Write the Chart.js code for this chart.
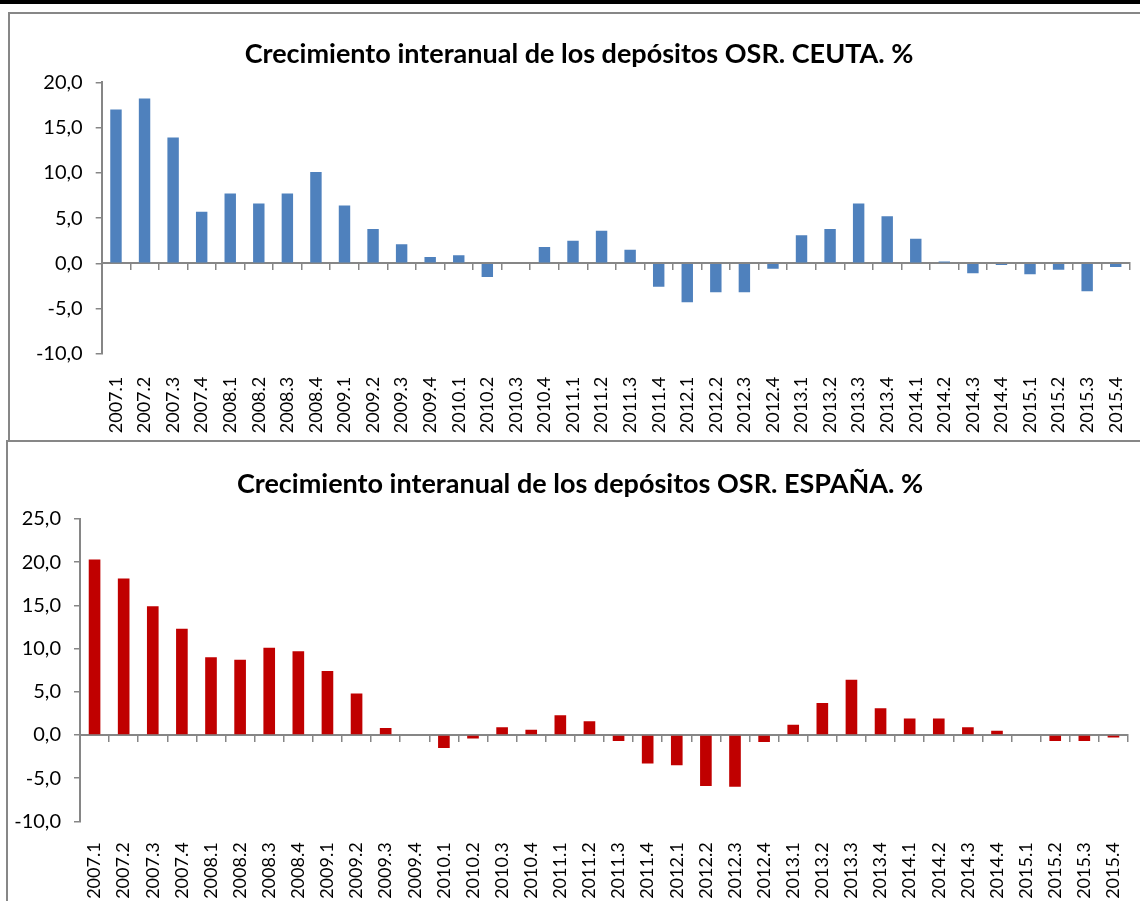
<!DOCTYPE html>
<html lang="es">
<head>
    <meta charset="UTF-8">
    <title>Crecimiento interanual de los depósitos OSR</title>
    <script src="https://cdn.jsdelivr.net/npm/chart.js"></script>
    <style>
        body {
            margin: 0;
            background: white;
            width: 1140px;
            height: 901px;
            overflow: hidden;
            position: relative;
            font-family: Lato, sans-serif;
        }
        .topbar {
            position: absolute;
            left: 0; top: 0;
            width: 1140px; height: 4px;
            background: #000;
        }
        .frame {
            position: absolute;
            border: 2px solid #878787;
            box-sizing: border-box;
        }
        .chart-box {
            position: absolute;
            left: 0;
            width: 1140px;
        }
        .chart-title {
            position: absolute;
            left: 0;
            text-align: center;
            font-family: Lato, sans-serif;
            font-weight: bold;
            font-size: 27px;
            line-height: 32px;
            color: #000;
            white-space: nowrap;
        }
    </style>
</head>
<body>
    <div class="topbar"></div>
    <div class="frame" style="left:8px; top:12px; width:1200px; height:430px;"></div>
    <div class="frame" style="left:6px; top:440px; width:1200px; height:500px;"></div>

    <div class="chart-box" style="top:0; height:440px;">
        <canvas id="ceutaChart"></canvas>
    </div>
    <div class="chart-box" style="top:440px; height:461px;">
        <canvas id="espanaChart"></canvas>
    </div>

    <div class="chart-title" style="top:37px; width:1158px;">Crecimiento interanual de los depósitos OSR. CEUTA. %</div>
    <div class="chart-title" style="top:467px; width:1160px;">Crecimiento interanual de los depósitos OSR. ESPAÑA. %</div>

    <script>
        // quarters on the x axis
        const quarters = [
            '2007.1', '2007.2', '2007.3', '2007.4',
            '2008.1', '2008.2', '2008.3', '2008.4',
            '2009.1', '2009.2', '2009.3', '2009.4',
            '2010.1', '2010.2', '2010.3', '2010.4',
            '2011.1', '2011.2', '2011.3', '2011.4',
            '2012.1', '2012.2', '2012.3', '2012.4',
            '2013.1', '2013.2', '2013.3', '2013.4',
            '2014.1', '2014.2', '2014.3', '2014.4',
            '2015.1', '2015.2', '2015.3', '2015.4'
        ];

        // year-on-year growth, %
        const ceutaValues = [
            17.0, 18.2, 13.9, 5.7,
            7.7, 6.6, 7.7, 10.1,
            6.4, 3.8, 2.1, 0.7,
            0.9, -1.5, 0.0, 1.8,
            2.5, 3.6, 1.5, -2.6,
            -4.3, -3.2, -3.2, -0.6,
            3.1, 3.8, 6.6, 5.2,
            2.7, 0.2, -1.1, -0.2,
            -1.2, -0.7, -3.1, -0.4
        ];
        const espanaValues = [
            20.3, 18.1, 14.9, 12.3,
            9.0, 8.7, 10.1, 9.7,
            7.4, 4.8, 0.8, -0.1,
            -1.5, -0.4, 0.9, 0.6,
            2.3, 1.6, -0.7, -3.3,
            -3.5, -5.9, -6.0, -0.8,
            1.2, 3.7, 6.4, 3.1,
            1.9, 1.9, 0.9, 0.5,
            0.0, -0.7, -0.7, -0.3
        ];

        // y axis ranges [min, max, step]
        const ceutaAxis = [-10, 20, 5];
        const espanaAxis = [-10, 25, 5];

        const axisGrey = '#868686';
        const fmt = v => v.toFixed(1).replace('.', ',');

        function makeChart(canvasId, values, color, axis, lay) {
            return new Chart(document.getElementById(canvasId), {
                type: 'bar',
                data: {
                    labels: quarters,
                    datasets: [{
                        data: values,
                        backgroundColor: color,
                        borderWidth: 0,
                        categoryPercentage: 0.4,
                        barPercentage: 1.0
                    }]
                },
                options: {
                    responsive: true,
                    maintainAspectRatio: false,
                    animation: false,
                    layout: {
                        padding: { left: 0, right: lay.padRight, top: lay.padTop, bottom: 0 }
                    },
                    plugins: {
                        legend: { display: false },
                        tooltip: { enabled: false },
                        title: { display: false }
                    },
                    scales: {
                        x: {
                            position: 'bottom',
                            offset: true,
                            grid: { display: false },
                            border: { display: false },
                            ticks: {
                                color: '#000',
                                font: { family: 'Lato', size: 18 },
                                minRotation: 90,
                                maxRotation: 90,
                                autoSkip: false,
                                padding: lay.labelPad
                            },
                            afterFit: s => {
                                s.height = lay.xHeight;
                                s.paddingLeft = 0;
                                s.paddingRight = 0;
                            }
                        },
                        // axis line with tick marks, crossing at zero
                        x2: {
                            axis: 'x',
                            type: 'category',
                            position: { y: 0 },
                            offset: true,
                            grid: {
                                offset: true,
                                drawOnChartArea: false,
                                drawTicks: true,
                                tickLength: 6,
                                color: axisGrey,
                                lineWidth: 1.5
                            },
                            border: { display: true, color: axisGrey, width: 2 },
                            ticks: { display: false },
                            afterFit: s => {
                                s.paddingLeft = 0;
                                s.paddingRight = 0;
                            }
                        },
                        y: {
                            min: axis[0],
                            max: axis[1],
                            grid: {
                                drawOnChartArea: false,
                                drawTicks: true,
                                tickLength: 6,
                                color: axisGrey,
                                lineWidth: 1.5
                            },
                            border: { display: true, color: axisGrey, width: 2 },
                            ticks: {
                                stepSize: axis[2],
                                color: '#000',
                                font: { family: 'Lato', size: 20 },
                                padding: 13,
                                callback: v => fmt(v)
                            },
                            afterFit: s => { s.width = lay.yWidth; }
                        }
                    }
                }
            });
        }

        makeChart('ceutaChart', ceutaValues, '#4F81BD', ceutaAxis,
            { padRight: 10, padTop: 82.3, yWidth: 101.7, xHeight: 86.2, labelPad: 15 });

        makeChart('espanaChart', espanaValues, '#C00000', espanaAxis,
            { padRight: 12, padTop: 79, yWidth: 80, xHeight: 79.6, labelPad: 13 });
    </script>
</body>
</html>
